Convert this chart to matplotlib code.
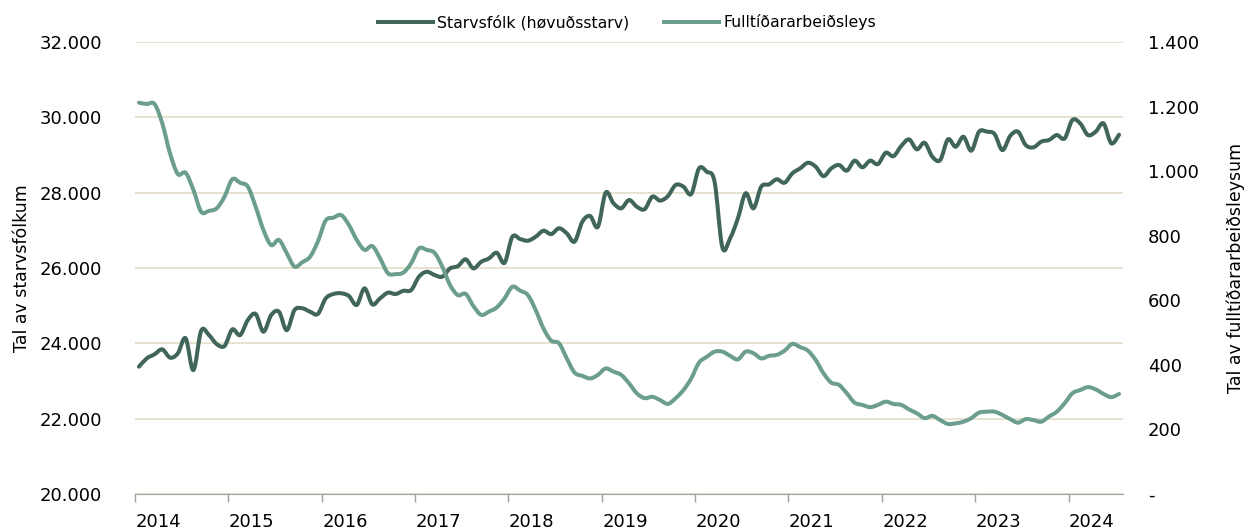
import numpy as np
import matplotlib
matplotlib.use("Agg")
import matplotlib.pyplot as plt
from matplotlib.ticker import FuncFormatter, FixedLocator
from matplotlib.path import Path
from matplotlib.patches import PathPatch
from matplotlib.lines import Line2D

# manaðarligt, jan 2014 - jul 2024
starvsfolk = [23380, 23600, 23710, 23840, 23620, 23735, 24135, 23290, 24335, 24220,
              23980, 23930, 24370, 24220, 24620, 24780, 24310, 24750, 24840, 24350,
              24885, 24930, 24840, 24780, 25190, 25310, 25330, 25255, 25020, 25460,
              25035, 25195, 25345, 25310, 25395, 25415, 25770, 25900, 25815, 25770,
              25990, 26050, 26230, 25990, 26165, 26255, 26405, 26140, 26830, 26770,
              26725, 26830, 26990, 26900, 27055, 26920, 26700, 27230, 27380, 27095,
              28000, 27720, 27585, 27805, 27630, 27560, 27895, 27790, 27910, 28205,
              28160, 27965, 28645, 28555, 28290, 26550, 26790, 27320, 27985, 27585,
              28160, 28220, 28355, 28265, 28515, 28645, 28795, 28690, 28440, 28645,
              28735, 28585, 28850, 28675, 28850, 28760, 29060, 28970, 29240, 29415,
              29150, 29325, 28955, 28865, 29415, 29220, 29485, 29115, 29620, 29620,
              29555, 29130, 29505, 29620, 29265, 29205, 29355, 29400, 29530, 29440,
              29930, 29840, 29530, 29620, 29840, 29310, 29540]

fulltidar = [1212, 1208, 1208, 1148, 1055, 991, 995, 942, 874, 877,
             885, 921, 975, 964, 952, 890, 818, 771, 787, 746,
             704, 718, 735, 782, 847, 856, 864, 833, 787, 756,
             768, 730, 684, 681, 686, 715, 761, 756, 747, 704,
             647, 616, 620, 582, 555, 565, 578, 606, 642, 630,
             616, 570, 513, 475, 467, 420, 376, 366, 358, 369,
             389, 379, 369, 343, 312, 297, 301, 291, 279, 297,
             322, 358, 407, 425, 441, 441, 428, 417, 441, 436,
             420, 428, 431, 444, 465, 455, 444, 415, 374, 345,
             338, 312, 283, 276, 269, 276, 286, 279, 276, 262,
             250, 235, 242, 229, 217, 219, 224, 235, 252, 255,
             255, 245, 232, 221, 232, 229, 224, 240, 255, 281,
             312, 322, 331, 324, 310, 300, 310]

ar = [2014, 2015, 2016, 2017, 2018, 2019, 2020, 2021, 2022, 2023, 2024]

dokk = '#40655a'
ljos = '#6b9e8f'
grid_col = '#e6e0cc'


def smooth_path(xs, ys):
    # bezier-kurva gjøgnum allar punktirnar (sum "smoothed line" í Excel)
    xs = np.asarray(xs, float)
    ys = np.asarray(ys, float)
    n = len(xs)
    verts = [(xs[0], ys[0])]
    codes = [Path.MOVETO]
    for i in range(n - 1):
        p0 = i - 1 if i > 0 else i
        p3 = i + 2 if i + 2 < n else i + 1
        c1 = (xs[i] + (xs[i + 1] - xs[p0]) / 6, ys[i] + (ys[i + 1] - ys[p0]) / 6)
        c2 = (xs[i + 1] - (xs[p3] - xs[i]) / 6, ys[i + 1] - (ys[p3] - ys[i]) / 6)
        verts += [c1, c2, (xs[i + 1], ys[i + 1])]
        codes += [Path.CURVE4] * 3
    return Path(verts, codes)


x = np.arange(len(starvsfolk))

fig = plt.figure(figsize=(12.54, 5.32), dpi=100)
ax = fig.add_axes([0.1077, 0.0714, 0.7878, 0.8496])
ax2 = ax.twinx()

ax.add_patch(PathPatch(smooth_path(x, starvsfolk), fill=False, edgecolor=dokk, lw=2.9,
                       joinstyle='round', capstyle='round', zorder=3))
ax2.add_patch(PathPatch(smooth_path(x, fulltidar), fill=False, edgecolor=ljos, lw=2.9,
                        joinstyle='round', capstyle='round', zorder=3))

ax.set_xlim(-0.5, len(x) - 0.5)
ax.set_ylim(20000, 32000)
ax2.set_ylim(0, 1400)

ax.set_yticks(np.arange(20000, 32001, 2000))
ax2.set_yticks(np.arange(0, 1401, 200))
ax.yaxis.set_major_formatter(FuncFormatter(lambda v, p: f'{int(v):,}'.replace(',', '.')))
ax2.yaxis.set_major_formatter(FuncFormatter(lambda v, p: '-' if v == 0 else f'{int(v):,}'.replace(',', '.')))

ax.grid(axis='y', color=grid_col, lw=1.3)
ax.set_axisbelow(True)

# ár: strikur við byrjan, tekstur nakað til høgru
yr_ticks = [(a - 2014) * 12 - 0.5 for a in ar]
ax.xaxis.set_major_locator(FixedLocator(yr_ticks))
ax.xaxis.set_minor_locator(FixedLocator([t + 3 for t in yr_ticks]))
ax.xaxis.set_major_formatter(FuncFormatter(lambda v, p: ''))
ax.set_xticklabels([str(a) for a in ar], minor=True)
ax.tick_params(axis='x', which='major', length=6, width=1, color='#a0a0a0', direction='out')
ax.tick_params(axis='x', which='minor', length=0, pad=14, labelsize=13)

ax.tick_params(axis='y', length=0, labelsize=13, pad=24)
ax2.tick_params(axis='y', length=0, labelsize=13, pad=18)

for a in (ax, ax2):
    for s in ['top', 'left', 'right', 'bottom']:
        a.spines[s].set_visible(False)
ax.spines['bottom'].set_visible(True)
ax.spines['bottom'].set_color('#a0a0a0')

ax.set_ylabel('Tal av starvsfólkum', fontsize=12.5, labelpad=6)
ax2.set_ylabel('Tal av fulltíðararbeiðsleysum', fontsize=12.5, labelpad=20)

handles = [Line2D([], [], color=dokk, lw=2.9, label='Starvsfólk (høvuðsstarv)'),
           Line2D([], [], color=ljos, lw=2.9, label='Fulltíðararbeiðsleys')]
fig.legend(handles=handles, loc='upper center', bbox_to_anchor=(0.5, 1.0), ncol=2,
           frameon=False, fontsize=11.3, handlelength=3.5, columnspacing=2.2, handletextpad=0.3)

fig.savefig('out.png', dpi=100)
